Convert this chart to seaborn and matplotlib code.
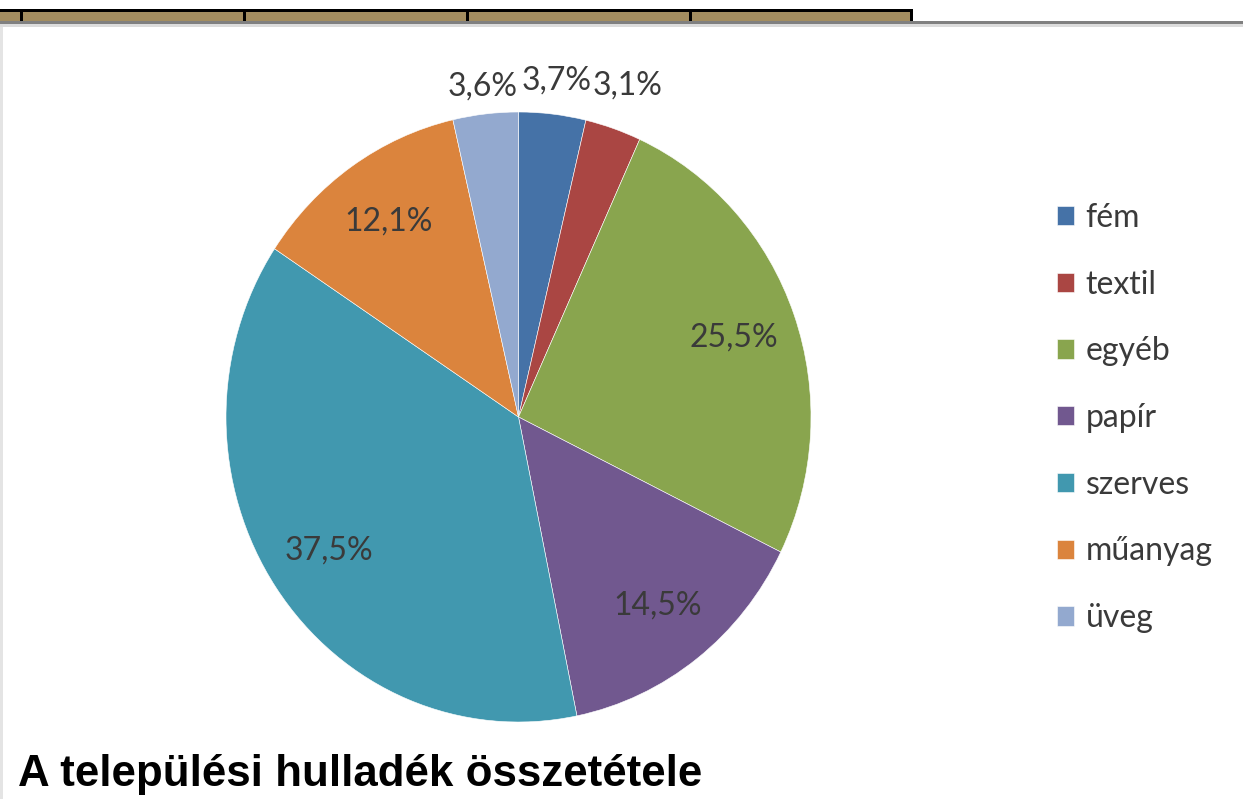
import matplotlib
matplotlib.use("Agg")
import matplotlib.pyplot as plt
from matplotlib.patches import Rectangle
import seaborn as sns

categories = ["fém", "textil", "egyéb", "papír", "szerves", "műanyag", "üveg"]
shares = [3.7, 3.1, 25.5, 14.5, 37.5, 12.1, 3.6]
colors = ["#4572A7", "#AA4643", "#89A54E", "#71588F", "#4198AF", "#DB843D", "#93A9CF"]
title = "A települési hulladék összetétele"

sns.set_theme(style="white")
plt.rcParams["font.family"] = ["Lato", "DejaVu Sans"]
palette = sns.color_palette(colors)

W, H = 1243, 799
fig = plt.figure(figsize=(W / 100, H / 100), dpi=100)
fig.patch.set_facecolor("white")

# window chrome strip at the top
def px_rect(x0, y0, x1, y1, color):
    fig.add_artist(Rectangle((x0 / W, 1 - y1 / H), (x1 - x0) / W, (y1 - y0) / H,
                             transform=fig.transFigure, color=color, lw=0, zorder=0))

px_rect(0, 9, 913, 12, "black")
px_rect(0, 12, 910, 21, "#A38D60")
px_rect(910, 9, 913, 21, "black")
for xd in [20, 243, 466, 689]:
    px_rect(xd, 12, xd + 3, 21, "black")
px_rect(0, 21, W, 24, "#808080")
px_rect(0, 24, W, 27, "#DCDCDC")
px_rect(0, 27, 3, H, "#E4E4E4")

# pie axes placed in pixel box (slightly taller than wide like the original)
left, right, top, bottom = 226, 811, 112, 722
ax = fig.add_axes([left / W, 1 - bottom / H, (right - left) / W, (bottom - top) / H])
wedges, texts, autotexts = ax.pie(
    shares, colors=palette, startangle=90, counterclock=False,
    autopct=lambda p: f"{p:.1f}%".replace(".", ","), pctdistance=0.78,
    wedgeprops=dict(edgecolor="white", linewidth=0.4),
    textprops=dict(color="#3a3a3a", fontsize=23),
)
ax.set_aspect("auto")
ax.set_xlim(-1, 1)
ax.set_ylim(-1, 1)

# small slices get their labels outside
outside_r = {"fém": 1.11, "textil": 1.15, "üveg": 1.09}
for cat, t in zip(categories, autotexts):
    if cat in outside_r:
        x, y = t.get_position()
        t.set_position((x / 0.78 * outside_r[cat], y / 0.78 * outside_r[cat]))

leg = fig.legend(wedges, categories, loc="upper left",
                 bbox_to_anchor=(1044 / W, 1 - 190 / H), frameon=False,
                 fontsize=23, labelcolor="#3a3a3a",
                 handlelength=0.55, handleheight=0.55, handletextpad=0.35,
                 labelspacing=1.15, borderaxespad=0)

fig.text(18 / W, 1 - 786 / H, title, fontsize=31.6, fontweight="bold",
         family="Liberation Sans", color="black", ha="left", va="baseline")

fig.savefig("out.png", dpi=100)
